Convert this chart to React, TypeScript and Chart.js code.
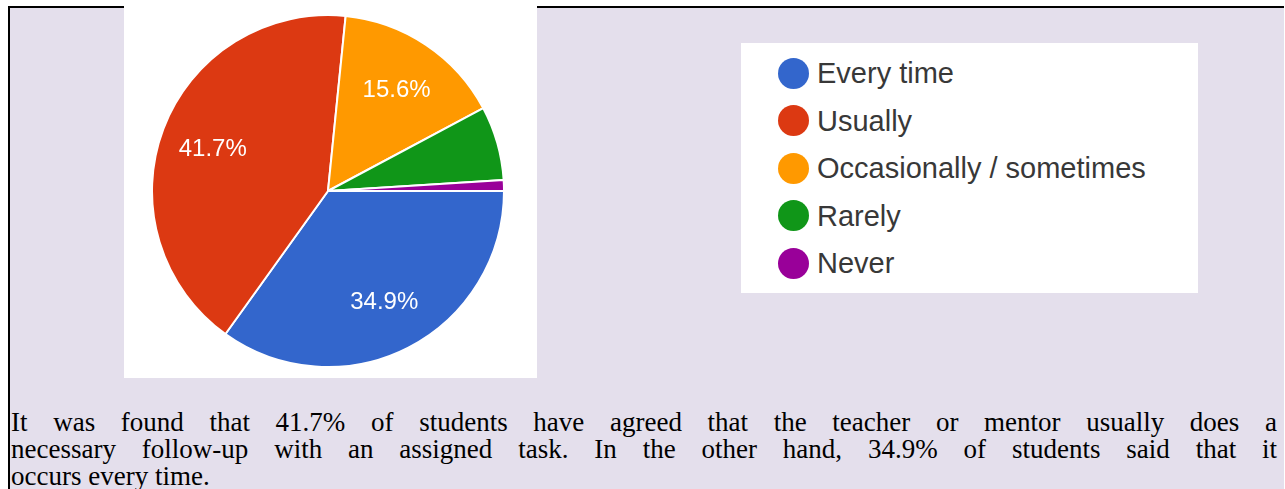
import React, { useEffect, useRef } from "react";
import { Chart, registerables } from "chart.js";

Chart.register(...registerables);

const categories = ["Every time", "Usually", "Occasionally / sometimes", "Rarely", "Never"];
const percentages = [34.9, 41.7, 15.6, 6.8, 1.0];
const colors = ["#3366cc", "#dc3912", "#ff9900", "#109618", "#990099"];
const paragraphLines = [
  "It was found that 41.7% of students have agreed that the teacher or mentor usually does a",
  "necessary follow-up with an assigned task. In the other hand, 34.9% of students said that it",
  "occurs every time.",
];

const sliceLabels = {
  id: "sliceLabels",
  afterDatasetsDraw(chart: any) {
    const ctx = chart.ctx;
    const meta = chart.getDatasetMeta(0);
    const data = chart.data.datasets[0].data as number[];
    const total = data.reduce((a, b) => a + b, 0);
    ctx.save();
    ctx.fillStyle = "#ffffff";
    ctx.font = "24px 'Liberation Sans', Arial, sans-serif";
    ctx.textAlign = "center";
    ctx.textBaseline = "middle";
    meta.data.forEach((arc: any, i: number) => {
      const pct = (data[i] / total) * 100;
      if (pct < 10) return;
      const p = arc.getProps(["x", "y", "startAngle", "endAngle", "outerRadius"], true);
      const mid = (p.startAngle + p.endAngle) / 2;
      const r = p.outerRadius * 0.7;
      ctx.fillText(data[i].toFixed(1) + "%", p.x + Math.cos(mid) * r, p.y + Math.sin(mid) * r + 2);
    });
    ctx.restore();
  },
};

export default function App() {
  const canvasRef = useRef<HTMLCanvasElement | null>(null);

  useEffect(() => {
    if (!canvasRef.current) return;
    const chart = new Chart(canvasRef.current, {
      type: "pie",
      data: {
        labels: categories,
        datasets: [
          {
            data: percentages,
            backgroundColor: colors,
            borderColor: "#ffffff",
            borderWidth: 2,
          },
        ],
      },
      options: {
        animation: false,
        responsive: false,
        rotation: 90,
        layout: { padding: 0 },
        plugins: {
          legend: { display: false },
          tooltip: { enabled: false },
        },
      },
      plugins: [sliceLabels],
    });
    return () => chart.destroy();
  }, []);

  return (
    <div
      style={{
        position: "absolute",
        left: 0,
        top: 0,
        width: 1285,
        height: 489,
        overflow: "hidden",
        background: "#ffffff",
      }}
    >
      <div
        style={{
          position: "absolute",
          left: 8,
          top: 6,
          width: 1276,
          height: 520,
          background: "#e4dfec",
          borderLeft: "2px solid #000",
          borderTop: "2px solid #000",
          boxSizing: "border-box",
        }}
      />
      <div
        style={{
          position: "absolute",
          left: 124,
          top: 0,
          width: 413,
          height: 378,
          background: "#ffffff",
        }}
      />
      <canvas
        ref={canvasRef}
        width={354}
        height={354}
        style={{ position: "absolute", left: 151, top: 14, width: 354, height: 354 }}
      />
      <div
        style={{
          position: "absolute",
          left: 741,
          top: 43,
          width: 457,
          height: 250,
          background: "#ffffff",
        }}
      >
        {categories.map((c, i) => (
          <div
            key={c}
            style={{
              position: "absolute",
              left: 37,
              top: 14 + i * 47.5,
              height: 32,
              display: "flex",
              alignItems: "center",
              whiteSpace: "nowrap",
            }}
          >
            <span
              style={{
                display: "inline-block",
                width: 31,
                height: 31,
                borderRadius: "50%",
                background: colors[i],
                marginRight: 8,
              }}
            />
            <span
              style={{
                fontFamily: "'Liberation Sans', Arial, sans-serif",
                fontSize: 29,
                color: "#383838",
                lineHeight: "32px",
              }}
            >
              {c}
            </span>
          </div>
        ))}
      </div>
      <div
        style={{
          position: "absolute",
          left: 11,
          top: 409,
          width: 1266,
          fontFamily: "'Liberation Serif', 'Times New Roman', serif",
          fontSize: 27,
          lineHeight: "27px",
          color: "#000",
        }}
      >
        {paragraphLines.map((line, i) => (
          <div
            key={i}
            style={{
              whiteSpace: "nowrap",
              textAlign: i < paragraphLines.length - 1 ? "justify" : "left",
              textAlignLast: i < paragraphLines.length - 1 ? "justify" : "left",
              height: 27,
            }}
          >
            {line}
          </div>
        ))}
      </div>
    </div>
  );
}
